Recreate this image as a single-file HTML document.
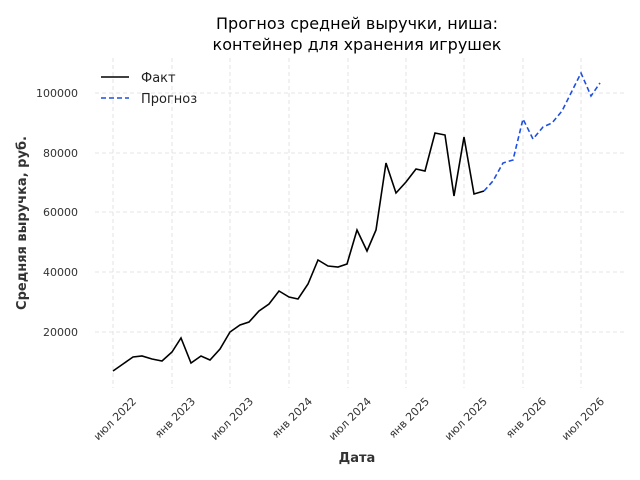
<!DOCTYPE html><html><head><meta charset="utf-8"><style>body{margin:0;background:#fff}svg{display:block;font-family:"DejaVu Sans","Liberation Sans",sans-serif}</style></head><body>
<svg width="640" height="480" viewBox="0 0 640 480">
<g stroke="#dddddd" stroke-dasharray="4,3" stroke-width="0.8">
<line x1="95" x2="625" y1="93" y2="93"/><line x1="95" x2="625" y1="153" y2="153"/><line x1="95" x2="625" y1="212" y2="212"/><line x1="95" x2="625" y1="272" y2="272"/><line x1="95" x2="625" y1="332" y2="332"/>
<line x1="113" x2="113" y1="58" y2="388"/><line x1="172" x2="172" y1="58" y2="388"/><line x1="230" x2="230" y1="58" y2="388"/><line x1="289" x2="289" y1="58" y2="388"/><line x1="348" x2="348" y1="58" y2="388"/><line x1="406" x2="406" y1="58" y2="388"/><line x1="464" x2="464" y1="58" y2="388"/><line x1="523" x2="523" y1="58" y2="388"/><line x1="581" x2="581" y1="58" y2="388"/>
</g>
<g font-size="11" fill="#333" text-anchor="end">
<text x="78" y="97">100000</text><text x="78" y="157">80000</text><text x="78" y="216">60000</text><text x="78" y="276">40000</text><text x="78" y="336">20000</text>
</g>
<g font-size="11" fill="#333" text-anchor="end">
<text transform="translate(137,402) rotate(-45)">июл 2022</text>
<text transform="translate(196,402) rotate(-45)">янв 2023</text>
<text transform="translate(254,402) rotate(-45)">июл 2023</text>
<text transform="translate(313,402) rotate(-45)">янв 2024</text>
<text transform="translate(372,402) rotate(-45)">июл 2024</text>
<text transform="translate(430,402) rotate(-45)">янв 2025</text>
<text transform="translate(488,402) rotate(-45)">июл 2025</text>
<text transform="translate(547,402) rotate(-45)">янв 2026</text>
<text transform="translate(605,402) rotate(-45)">июл 2026</text>
</g>
<polyline fill="none" stroke="#000" stroke-width="1.6" points="113,371 123,364 133,357 142,356 152,359 162,361 172,352 181,338 191,363 201,356 210,360 220,349 230,332 240,325 249,322 259,311 269,304 279,291 289,297 298,299 308,284 318,260 328,266 338,267 347,264 357,230 367,251 376,230 386,163 396,193 406,182 416,169 425,171 435,133 445,135 454,196 464,137 474,194 484,191"/>
<polyline fill="none" stroke="#1f4fe0" stroke-width="1.6" stroke-dasharray="5,3" points="484,191 493,181 503,163 513,160 523,119 533,139 543,127 552,123 562,111 572,91 581,73 591,96 600,83"/>
<line x1="101" x2="129" y1="77" y2="77" stroke="#000" stroke-width="1.6"/>
<line x1="101" x2="129" y1="98" y2="98" stroke="#1f4fe0" stroke-width="1.6" stroke-dasharray="5,3"/>
<text x="141" y="82" font-size="13" fill="#222">Факт</text>
<text x="141" y="103" font-size="13" fill="#222">Прогноз</text>
<text x="357" y="29" font-size="16" text-anchor="middle" fill="#000">Прогноз средней выручки, ниша:</text>
<text x="357" y="50" font-size="16" text-anchor="middle" fill="#000">контейнер для хранения игрушек</text>
<text x="357" y="462" font-size="13" font-weight="bold" text-anchor="middle" fill="#333">Дата</text>
<text transform="translate(26,223) rotate(-90)" font-size="13" font-weight="bold" text-anchor="middle" fill="#333">Средняя выручка, руб.</text>
</svg></body></html>
